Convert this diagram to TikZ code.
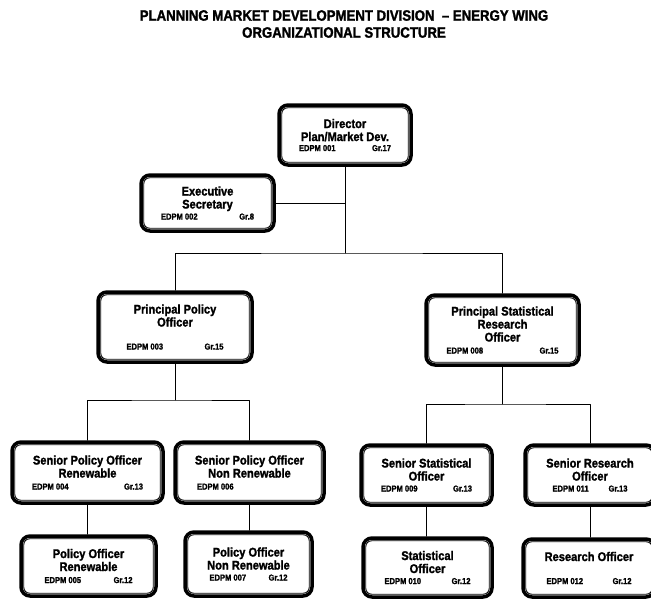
\documentclass[tikz,border=0pt]{standalone}
\usepackage{fontspec}
\setmainfont{Liberation Sans}[BoldFeatures={FakeBold=1.6, FakeStretch=0.88}]
\usetikzlibrary{calc}

\newcommand{\idline}[3]{\makebox[#1pt]{\fontsize{8.6}{9}\selectfont #2\hfill #3}}

\begin{document}
\begin{tikzpicture}[x=1pt, y=-1pt, line cap=round, line join=round,
  post/.style 2 args={draw, line width=3.5pt, rounded corners=9pt, align=center,
    inner sep=0pt, minimum width=#1pt, minimum height=#2pt,
    font=\bfseries\fontsize{12.6}{13}\selectfont},
  link/.style={line width=0.9pt}]

\useasboundingbox (0,0) rectangle (651,600);
\clip (0,0) rectangle (651,600);

% Heading
\node[font=\bfseries\fontsize{15}{17}\selectfont, align=center] (title) at (344,24)
  {PLANNING MARKET DEVELOPMENT DIVISION \ -- ENERGY WING\\ORGANIZATIONAL STRUCTURE};

% Director and secretary
\node[post={132}{60}] (dir) at (345,135) {Director\\Plan/Market Dev.\\[-3pt]\idline{92}{EDPM 001}{Gr.17}};
\node[post={133}{56}] (sec) at (207.5,203) {Executive\\Secretary\\[-2pt]\idline{93}{EDPM 002}{Gr.8}};

% Principal officers
\node[post={154}{70}] (pp) at (175,327) {Principal Policy\\Officer\\[10pt]\idline{97}{EDPM 003}{Gr.15}};
\node[post={153}{70}] (psr) at (502.5,330) {Principal Statistical\\Research\\Officer\\[-1pt]\idline{112}{EDPM 008}{Gr.15}};

% Senior officers
\node[post={151}{61}] (spoR) at (87.5,472.5) {Senior Policy Officer\\Renewable\\[-1pt]\idline{111}{EDPM 004}{Gr.13}};
\node[post={149}{61}] (spoN) at (249.5,472.5) {Senior Policy Officer\\Non Renewable\\[-1pt]\idline{105}{EDPM 006}{}};
\node[post={131}{60}] (ss) at (426.5,475) {Senior Statistical\\Officer\\[-2pt]\idline{91}{EDPM 009}{Gr.13}};
\node[post={130}{60}] (sr) at (590,475) {Senior Research\\Officer\\[-2pt]\idline{75}{EDPM 011}{Gr.13}};

% Officers
\node[post={135}{60}] (poR) at (88.5,566) {Policy Officer\\Renewable\\[-1pt]\idline{88}{EDPM 005}{Gr.12}};
\node[post={127}{64}] (poN) at (248.5,564) {Policy Officer\\Non Renewable\\[-2pt]\idline{78}{EDPM 007}{Gr.12}};
\node[post={129}{59}] (so) at (427.5,567.5) {Statistical\\Officer\\[-2pt]\idline{86}{EDPM 010}{Gr.12}};
\node[post={132}{58}] (ro) at (589,568) {Research Officer\\[10pt]\idline{85}{EDPM 012}{Gr.12}};

% inner frames
\foreach \n in {dir,sec,pp,psr,spoR,spoN,ss,sr,poR,poN,so,ro}
  \draw[line width=0.9pt, rounded corners=6pt] ($(\n.south west)+(4.5,-4.5)$) rectangle ($(\n.north east)+(-4.5,4.5)$);

% Lines
\coordinate (topbus) at (345,253);
\coordinate (polbus) at (175,400);
\coordinate (statbus) at (502.5,404);

\draw[link] (dir.south) -- (topbus);
\draw[link] (sec.east) -- (sec.east -| dir.south);
\draw[link] (pp.north) |- (topbus) -| (psr.north);

\draw[link] (pp.south) -- (polbus);
\draw[link] (spoR.north) |- (polbus) -| (spoN.north);
\draw[link] (psr.south) -- (statbus);
\draw[link] (ss.north) |- (statbus) -| (sr.north);

\draw[link] (spoR.south) -- (spoR.south |- poR.north);
\draw[link] (spoN.south) -- (spoN.south |- poN.north);
\draw[link] (ss.south) -- (ss.south |- so.north);
\draw[link] (sr.south) -- (sr.south |- ro.north);

\end{tikzpicture}
\end{document}
